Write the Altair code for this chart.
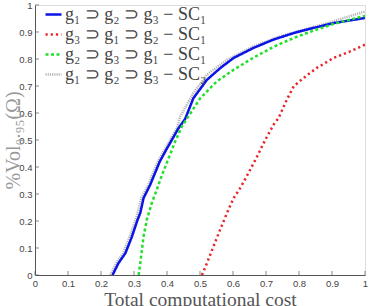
import altair as alt
import pandas as pd

series_names = ["g₁ ⊃ g₂ ⊃ g₃ − SC₁", "g₃ ⊃ g₁ ⊃ g₂ − SC₁", "g₂ ⊃ g₃ ⊃ g₁ − SC₁", "g₁ ⊃ g₂ ⊃ g₃ − SC₂"]
series_colors = ["#0a14e6", "#e8262a", "#22e02a", "#b4b4b4"]
series_dash = [[1, 0], [2.2, 3], [3, 2.5], [1.2, 1]]
series_width = [2.5, 2.5, 2.5, 3.2]

blue_x = [0.235, 0.253, 0.274, 0.294, 0.311, 0.319, 0.329, 0.349, 0.378, 0.395, 0.415, 0.435, 0.455, 0.48, 0.521, 0.562, 0.602, 0.662, 0.723, 0.784, 0.844, 0.905, 1.0]
blue_y = [0.0, 0.044, 0.081, 0.143, 0.205, 0.23, 0.285, 0.334, 0.42, 0.458, 0.501, 0.544, 0.578, 0.655, 0.723, 0.767, 0.804, 0.841, 0.872, 0.896, 0.915, 0.933, 0.952]

red_x = [0.506, 0.521, 0.541, 0.561, 0.582, 0.602, 0.622, 0.647, 0.673, 0.698, 0.723, 0.738, 0.763, 0.784, 0.814, 0.854, 0.905, 0.955, 1.0]
red_y = [0.0, 0.044, 0.106, 0.168, 0.23, 0.285, 0.322, 0.378, 0.439, 0.501, 0.557, 0.581, 0.649, 0.699, 0.73, 0.767, 0.804, 0.828, 0.853]

green_x = [0.314, 0.319, 0.329, 0.339, 0.354, 0.369, 0.385, 0.405, 0.425, 0.445, 0.46, 0.501, 0.551, 0.602, 0.662, 0.723, 0.784, 0.844, 0.905, 1.0]
green_y = [0.0, 0.044, 0.143, 0.205, 0.267, 0.316, 0.371, 0.433, 0.495, 0.55, 0.578, 0.655, 0.717, 0.76, 0.805, 0.845, 0.878, 0.905, 0.93, 0.96]

gray_x = [0.228, 0.246, 0.267, 0.287, 0.305, 0.322, 0.343, 0.372, 0.39, 0.41, 0.43, 0.44, 0.48, 0.521, 0.582, 0.662, 0.742, 0.824, 0.905, 1.0]
gray_y = [0.0, 0.044, 0.081, 0.143, 0.205, 0.285, 0.334, 0.42, 0.458, 0.501, 0.544, 0.587, 0.674, 0.742, 0.797, 0.847, 0.884, 0.912, 0.94, 0.976]

tick_values = [0, 0.1, 0.2, 0.3, 0.4, 0.5, 0.6, 0.7, 0.8, 0.9, 1]

rows = []
for name, xs, ys in zip(series_names, [blue_x, red_x, green_x, gray_x], [blue_y, red_y, green_y, gray_y]):
    for i, (a, b) in enumerate(zip(xs, ys)):
        rows.append({"series": name, "x": a, "y": b, "i": i})
df = pd.DataFrame(rows)
ticks = pd.DataFrame({"v": tick_values})

xscale = alt.Scale(domain=[0, 1], nice=False, zero=False)
yscale = alt.Scale(domain=[0, 1], nice=False, zero=False)

axis_common = dict(
    tickCount=10, labelExpr="format(datum.value, '~g')", tickSize=0, labelFont="Liberation Sans",
    labelFontSize=9.5, labelColor="#444", domainColor="#555", grid=False, titleFont="Liberation Serif",
    titleFontWeight="normal", labelOverlap=False, labelFlush=False,
    titleBaseline="alphabetic",
)

color = alt.Color("series:N", scale=alt.Scale(domain=series_names, range=series_colors),
                  sort=series_names,
                  legend=alt.Legend(title=None, orient="none", legendX=9, legendY=0, padding=0,
                                    symbolType="stroke", symbolSize=256, symbolStrokeWidth=2.5,
                                    labelFont="Liberation Serif", labelFontSize=18, labelColor="#444",
                                    labelOffset=2, rowPadding=1, labelLimit=300))
dash = alt.StrokeDash("series:N", scale=alt.Scale(domain=series_names, range=series_dash),
                      sort=series_names, legend=alt.Legend(title=None, orient="none", legendX=9, legendY=0))
width_enc = alt.StrokeWidth("series:N", scale=alt.Scale(domain=series_names, range=series_width), legend=None)

x_axis = alt.Axis(title="Total computational cost", titleColor="#555", titleFontSize=19.5,
                  labelPadding=3, titleY=30, **axis_common)
y_axis = alt.Axis(title="%Vol₀.₉₅(Ω)", titleColor="#999", titleFontSize=20,
                  labelPadding=3, titleX=-16, titleY=135, **axis_common)

def line(name):
    return alt.Chart(df).transform_filter(alt.datum.series == name).mark_line(strokeCap="butt", clip=True).encode(
        x=alt.X("x:Q", scale=xscale, axis=x_axis),
        y=alt.Y("y:Q", scale=yscale, axis=y_axis),
        color=color, strokeDash=dash, strokeWidth=width_enc, order="i:Q",
    )

xticks = alt.Chart(ticks).mark_tick(orient="vertical", size=4, yOffset=-2, thickness=1, color="#555").encode(
    x=alt.X("v:Q", scale=xscale, axis=x_axis), y=alt.datum(0, axis=y_axis))
yticks = alt.Chart(ticks).mark_tick(orient="horizontal", size=4, xOffset=2, thickness=1, color="#555").encode(
    y=alt.Y("v:Q", scale=yscale, axis=y_axis), x=alt.datum(0, axis=x_axis))

chart = alt.layer(
    xticks, yticks,
    line(series_names[3]), line(series_names[0]), line(series_names[1]), line(series_names[2]),
).properties(
    width=330, height=270, padding={"left": 35, "top": 5, "right": 4, "bottom": 31},
    autosize=alt.AutoSizeParams(type="none"),
).configure_view(stroke=None).configure(background="white")

chart.save("out.html", embed_options={"renderer": "svg", "actions": False})
